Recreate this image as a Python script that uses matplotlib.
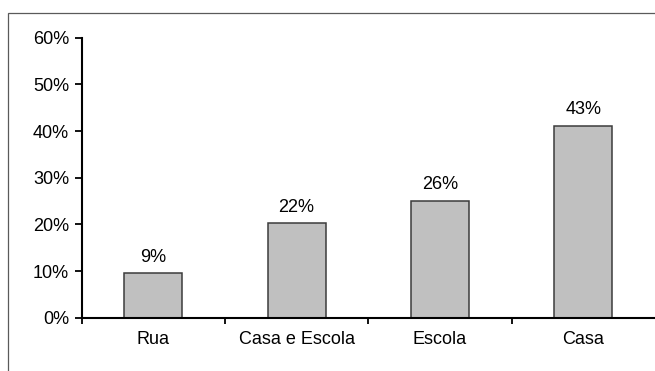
import matplotlib
matplotlib.use("Agg")
import matplotlib.pyplot as plt
from matplotlib.patches import Rectangle
from matplotlib.ticker import PercentFormatter

# data
categories = ["Rua", "Casa e Escola", "Escola", "Casa"]
values = [0.095, 0.202, 0.251, 0.411]
value_labels = ["9%", "22%", "26%", "43%"]
y_ticks = [0.0, 0.1, 0.2, 0.3, 0.4, 0.5, 0.6]

plt.rcParams["font.family"] = ["Liberation Sans", "DejaVu Sans"]
FS = 13

fig = plt.figure(figsize=(6.55, 3.71), dpi=100)

# outer chart-area frame (runs off the right and bottom edges)
fig.patches.append(Rectangle((8.4 / 655, -0.1), 1.2, (371 - 13.3) / 371 + 0.1,
                             transform=fig.transFigure, fill=False,
                             edgecolor="#5a5a5a", linewidth=0.9))

ax = fig.add_axes([81.5 / 655, 53.3 / 371, 1 - 81.5 / 655, 280 / 371])

x = range(len(categories))
ax.bar(x, values, width=0.405, color="#c0c0c0", edgecolor="#3c3c3c",
       linewidth=1.1, zorder=2)

for i, (v, lab) in enumerate(zip(values, value_labels)):
    ax.annotate(lab, (i, v), xytext=(0, 5.5), textcoords="offset points",
                ha="center", va="bottom", fontsize=FS)

ax.set_xlim(-0.5, len(categories) - 0.5)
ax.set_ylim(0, 0.6)
ax.set_yticks(y_ticks)
ax.yaxis.set_major_formatter(PercentFormatter(1.0, decimals=0))

# boundary ticks below the axis, labels centred in each slot
ax.set_xticks([i - 0.5 for i in range(len(categories))])
ax.set_xticklabels([])
ax.set_xticks(list(x), minor=True)
ax.set_xticklabels(categories, minor=True)
ax.tick_params(axis="x", which="major", direction="out", length=4, width=1.3,
               color="black")
ax.tick_params(axis="x", which="minor", length=0, pad=9.5, labelsize=FS)
ax.tick_params(axis="y", direction="out", length=5, width=1.3, pad=4,
               labelsize=FS)

for side in ["top", "right"]:
    ax.spines[side].set_visible(False)
for side in ["left", "bottom"]:
    ax.spines[side].set_linewidth(1.5)

fig.savefig("out.png", dpi=100)
